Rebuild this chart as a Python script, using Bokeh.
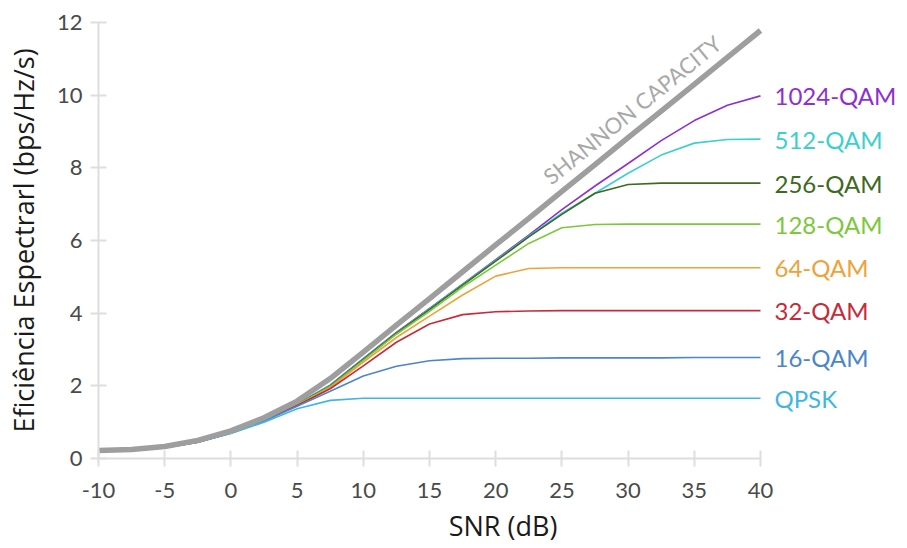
import math
from bokeh.plotting import figure
from bokeh.models import Range1d, Label, LabelSet, ColumnDataSource, FixedTicker
from bokeh.core.properties import value
from bokeh.embed import file_html
from bokeh.resources import INLINE

# ---- data ----
snr = [-10, -7.5, -5, -2.5, 0, 2.5, 5, 7.5, 10, 12.5, 15, 17.5, 20, 22.5, 25, 27.5, 30, 32.5, 35, 37.5, 40]

shannon = [0.22, 0.25, 0.33, 0.50, 0.76, 1.12, 1.58, 2.20, 2.93, 3.67, 4.40, 5.14, 5.88, 6.61, 7.35, 8.09, 8.83, 9.56, 10.30, 11.04, 11.78]
qam1024 = [0.20, 0.22, 0.30, 0.46, 0.72, 1.06, 1.50, 2.02, 2.75, 3.47, 4.13, 4.80, 5.47, 6.15, 6.85, 7.50, 8.12, 8.75, 9.30, 9.72, 9.98]
qam512 = [0.20, 0.22, 0.30, 0.46, 0.72, 1.06, 1.50, 2.01, 2.74, 3.46, 4.12, 4.79, 5.45, 6.12, 6.75, 7.30, 7.85, 8.35, 8.68, 8.78, 8.79]
qam256 = [0.20, 0.22, 0.30, 0.46, 0.71, 1.05, 1.49, 2.00, 2.73, 3.45, 4.10, 4.77, 5.43, 6.10, 6.72, 7.30, 7.54, 7.58, 7.58, 7.58, 7.58]
qam128 = [0.20, 0.22, 0.30, 0.45, 0.71, 1.05, 1.48, 1.98, 2.70, 3.42, 4.05, 4.72, 5.32, 5.92, 6.35, 6.44, 6.45, 6.45, 6.45, 6.45, 6.45]
qam64 = [0.20, 0.22, 0.30, 0.45, 0.70, 1.04, 1.47, 1.95, 2.65, 3.33, 3.92, 4.50, 5.02, 5.23, 5.25, 5.25, 5.25, 5.25, 5.25, 5.25, 5.25]
qam32 = [0.20, 0.22, 0.30, 0.45, 0.70, 1.04, 1.46, 1.92, 2.55, 3.20, 3.70, 3.96, 4.04, 4.06, 4.07, 4.07, 4.07, 4.07, 4.07, 4.07, 4.07]
qam16 = [0.20, 0.22, 0.30, 0.45, 0.70, 1.03, 1.44, 1.85, 2.27, 2.54, 2.69, 2.75, 2.76, 2.76, 2.77, 2.77, 2.77, 2.77, 2.78, 2.78, 2.78]
qpsk = [0.20, 0.22, 0.30, 0.45, 0.69, 1.00, 1.37, 1.60, 1.66, 1.66, 1.66, 1.66, 1.66, 1.66, 1.66, 1.66, 1.66, 1.66, 1.66, 1.66, 1.66]

series_names = ["1024-QAM", "512-QAM", "256-QAM", "128-QAM", "64-QAM", "32-QAM", "16-QAM", "QPSK"]
series_values = [qam1024, qam512, qam256, qam128, qam64, qam32, qam16, qpsk]
series_colors = ["#8e2fd2", "#3ccfcf", "#3b6a20", "#7cc83c", "#eea23a", "#c92a3a", "#4a86c8", "#3fb6e2"]

x_ticks = [-10, -5, 0, 5, 10, 15, 20, 25, 30, 35, 40]
y_ticks = [0, 2, 4, 6, 8, 10, 12]

x_title = "SNR (dB)"
y_title = "Eficiência Espectrarl (bps/Hz/s)"
shannon_title = "SHANNON CAPACITY"

# ---- figure ----
# frame spans to the right edge so the series names can be drawn inside it
p = figure(width=907, height=548, frame_width=809, frame_height=436,
           min_border_left=98, min_border_right=0, min_border_top=22, min_border_bottom=90,
           x_range=Range1d(-10, -10 + 809 / 13.24), y_range=Range1d(0, 12),
           output_backend="svg", toolbar_location=None, tools="")
p.outline_line_color = None
p.xgrid.grid_line_color = None
p.ygrid.grid_line_color = None
p.background_fill_color = "white"
p.border_fill_color = "white"

for ax in (p.xaxis[0], p.yaxis[0]):
    ax.axis_line_color = "#dedede"
    ax.axis_line_width = 2
    ax.major_tick_line_color = "#dedede"
    ax.major_tick_line_width = 2
    ax.major_tick_in = 8
    ax.major_tick_out = 8
    ax.minor_tick_line_color = None
    ax.major_label_text_font = "Lato"
    ax.major_label_text_font_size = "22px"
    ax.major_label_text_color = "#4a4a4a"
    ax.axis_label_text_font = "Open Sans"
    ax.axis_label_text_font_size = "27px"
    ax.axis_label_text_font_style = "normal"
    ax.axis_label_text_color = "#1a1a1a"

p.xaxis[0].ticker = FixedTicker(ticks=x_ticks)
p.xaxis[0].bounds = (x_ticks[0], x_ticks[-1])
p.xaxis[0].major_label_overrides = {t: str(t) for t in x_ticks}
p.yaxis[0].ticker = FixedTicker(ticks=y_ticks)
p.xaxis[0].major_label_standoff = 16
p.yaxis[0].major_label_standoff = 8
p.xaxis[0].axis_label = x_title
p.xaxis[0].axis_label_standoff = 6
p.yaxis[0].axis_label = y_title
p.yaxis[0].axis_label_standoff = 12

for vals, col in zip(series_values, series_colors):
    p.line(snr, vals, line_color=col, line_width=1.6)

p.line(snr, shannon, line_color="#9e9e9e", line_width=5.5)

# right-hand labels
ends = [v[-1] for v in series_values]
src = ColumnDataSource(dict(x=[snr[-1]] * len(ends), y=ends, text=series_names, color=series_colors))
p.add_layout(LabelSet(x="x", y="y", text="text", source=src, x_offset=14,
                      text_color="color", text_font=value("Lato"), text_font_size=value("24px"),
                      text_baseline="middle", text_align="left"))

# Shannon capacity label along the line
p.add_layout(Label(x=30.3, y=9.6, text=shannon_title, angle=39, angle_units="deg",
                   text_font="Lato", text_font_size="22px", text_color="#a8a8a8",
                   text_align="center", text_baseline="middle"))

open("out.html", "w").write(file_html(p, INLINE))
